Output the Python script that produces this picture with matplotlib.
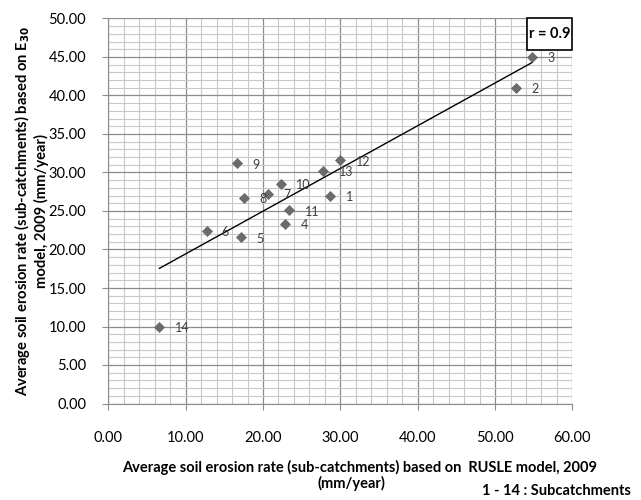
import numpy as np
import matplotlib.pyplot as plt
from matplotlib.patches import Rectangle
from matplotlib.ticker import MultipleLocator, FormatStrFormatter

# sub-catchment values
ids = [1, 2, 3, 4, 5, 6, 7, 8, 9, 10, 11, 12, 13, 14]
rusle = [28.7, 52.7, 54.8, 22.9, 17.2, 12.7, 20.7, 17.6, 16.6, 22.3, 23.4, 30.0, 27.8, 6.6]
e30 = [27.0, 41.0, 45.0, 23.3, 21.6, 22.4, 27.2, 26.7, 31.2, 28.5, 25.1, 31.6, 30.2, 10.0]
r_value = 0.9

plt.rcParams['font.family'] = ['Lato', 'DejaVu Sans']

x = np.array(rusle)
y = np.array(e30)
slope, icpt = np.polyfit(x, y, 1)
xl = np.array([x.min(), x.max()])

fig = plt.figure(figsize=(6.41, 5.0), dpi=100)
ax = fig.add_axes([0.169, 0.193, 0.724, 0.770])

ax.plot(xl, slope*xl + icpt, color='black', lw=1.0, zorder=3)
ax.scatter(x, y, marker='D', s=32, color='#6b6b6b', zorder=4, linewidths=0)
for i, xi, yi in zip(ids, x, y):
    ax.annotate(str(i), (xi, yi), xytext=(11, -1), textcoords='offset points',
                fontsize=9, color='#404040', va='center', ha='left', zorder=5)

ax.set_xlim(0, 60)
ax.set_ylim(0, 50)
ax.xaxis.set_major_locator(MultipleLocator(10))
ax.xaxis.set_minor_locator(MultipleLocator(2))
ax.yaxis.set_major_locator(MultipleLocator(5))
ax.yaxis.set_minor_locator(MultipleLocator(1))
ax.xaxis.set_major_formatter(FormatStrFormatter('%.2f'))
ax.yaxis.set_major_formatter(FormatStrFormatter('%.2f'))
ax.grid(which='major', color='#8c8c8c', lw=0.9)
ax.grid(which='minor', color='#c8c8c8', lw=0.8)
ax.set_axisbelow(True)
ax.tick_params(which='major', labelsize=10.5, length=4, color='#8c8c8c')
ax.tick_params(which='minor', length=0)
ax.tick_params(axis='x', pad=16)
ax.tick_params(axis='y', pad=12)
for s in ['top', 'right']:
    ax.spines[s].set_visible(False)
for s in ['left', 'bottom']:
    ax.spines[s].set_color('#8c8c8c')

# x title is two separate lines, slightly off-centre as in the original
fig.text(0.5616, 0.066, 'Average soil erosion rate (sub-catchments) based on  RUSLE model, 2009',
         fontsize=10.5, fontweight='bold', ha='center', va='center')
fig.text(0.549, 0.034, '(mm/year)', fontsize=10.5, fontweight='bold', ha='center', va='center')

ax.set_ylabel('Average soil erosion rate (sub-catchments) based on E$_{\\mathbf{30}}$\nmodel, 2009 (mm/year)',
              fontsize=10.6, fontweight='bold')
ax.yaxis.set_label_coords(-0.127, 0.5)

# r box in the top right corner
ax.add_patch(Rectangle((0.902, 0.919), 0.098, 0.081, transform=ax.transAxes,
                       fc='white', ec='black', lw=1.2, zorder=6, clip_on=False))
ax.text(0.951, 0.9595, 'r = %.1f' % r_value, transform=ax.transAxes, fontsize=10.5,
        fontweight='bold', ha='center', va='center', zorder=7)

fig.text(0.984, 0.018, '1 - 14 : Subcatchments', fontsize=10.5, fontweight='bold', ha='right', va='center')

fig.savefig('out.png', dpi=100)
